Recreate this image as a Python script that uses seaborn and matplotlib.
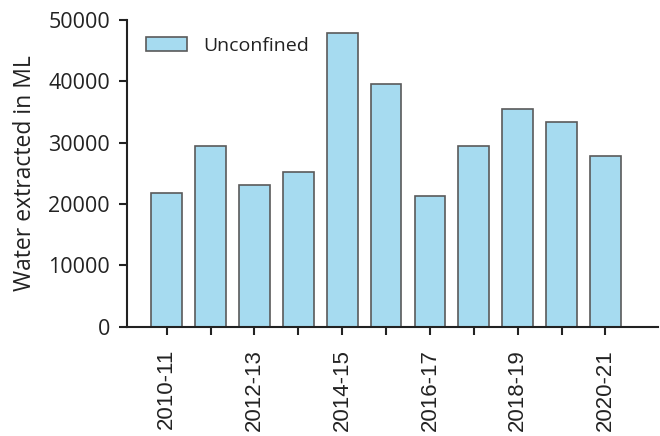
import matplotlib
matplotlib.use("Agg")
import matplotlib.pyplot as plt
import seaborn as sns
import pandas as pd

years = ["2010-11", "2011-12", "2012-13", "2013-14", "2014-15", "2015-16",
         "2016-17", "2017-18", "2018-19", "2019-20", "2020-21"]
unconfined = [21850, 29500, 23050, 25300, 47900, 39500, 21300, 29500, 35500, 33400, 27800]
yticks = [0, 10000, 20000, 30000, 40000, 50000]
series_name = "Unconfined"

sns.set_theme(style="ticks")
plt.rcParams['font.family'] = ['Open Sans', 'DejaVu Sans']

df = pd.DataFrame({"year": years, "value": unconfined, "series": series_name})

fig = plt.figure(figsize=(6.6, 4.36), dpi=100)
ax = fig.add_axes([127.3/660, 1 - 326.7/436, (658 - 127.3)/660, (326.7 - 20)/436])

sns.barplot(data=df, x="year", y="value", hue="series", ax=ax,
            palette=["#a6dbf0"], edgecolor="#5a5a5a", linewidth=1.2,
            width=0.7, saturation=1, legend=True)

ax.set_xlim(-0.9, 11.2)
ax.set_ylim(0, 50000)
ax.set_yticks(yticks)
ax.set_yticklabels([str(v) for v in yticks], fontsize=15.5)
ax.set_xticks(range(len(years)))
labels = ax.set_xticklabels([y if i % 2 == 0 else "" for i, y in enumerate(years)],
                            rotation=90, fontsize=16)
for lab in labels:
    lab.set_fontfamily(['Liberation Sans', 'DejaVu Sans'])
ax.set_xlabel("")
ax.set_ylabel("Water extracted in ML", fontsize=16.5, labelpad=8, color="#222222")

for s in ["top", "right"]:
    ax.spines[s].set_visible(False)
for s in ["left", "bottom"]:
    ax.spines[s].set_linewidth(1.5)
    ax.spines[s].set_color("#222222")
ax.tick_params(axis="both", direction="out", length=6, width=1.5, color="#222222",
               labelcolor="#222222")
ax.tick_params(axis="y", pad=6.5)
ax.tick_params(axis="x", pad=10)

leg = ax.legend(loc="upper left", frameon=False, fontsize=14,
                handlelength=2.1, handleheight=0.67, handletextpad=0.85,
                borderaxespad=0, borderpad=0,
                bbox_to_anchor=(0.035, 0.945))
for t in leg.get_texts():
    t.set_color("#222222")

fig.savefig("out.png", dpi=100)
